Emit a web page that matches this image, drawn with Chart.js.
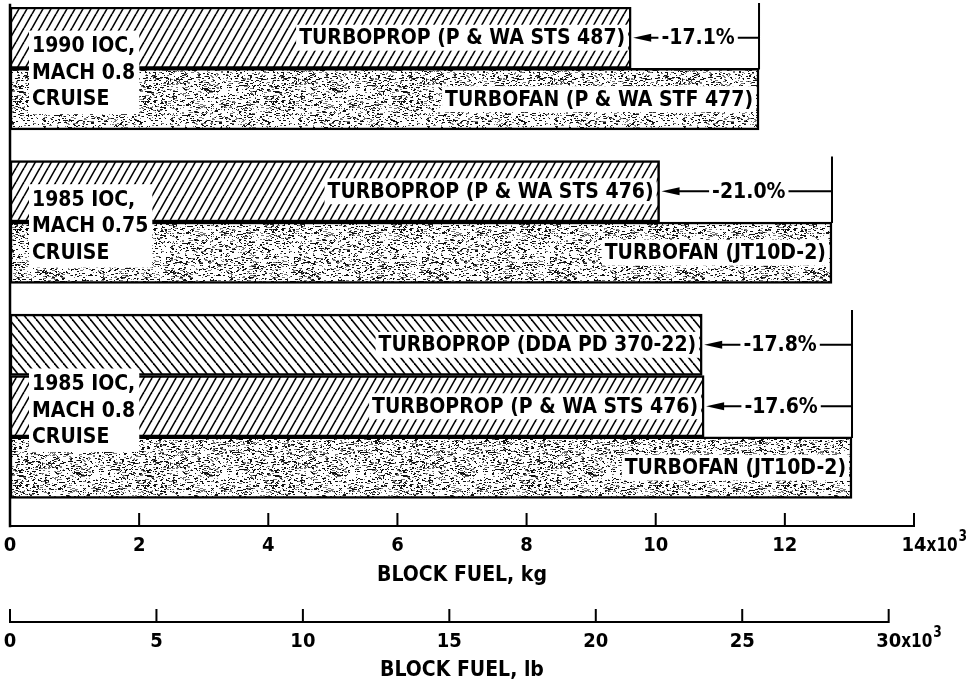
<!DOCTYPE html>
<html>
<head>
<meta charset="utf-8">
<title>Block fuel comparison</title>
<script src="https://cdn.jsdelivr.net/npm/chart.js@4.4.1/dist/chart.umd.min.js"></script>
<style>
  html, body { margin: 0; padding: 0; background: #fff; }
  #wrap { width: 970px; height: 683px; }
</style>
</head>
<body>
<div id="wrap"><canvas id="fuel-chart" width="970" height="683"></canvas></div>
<script>
// block fuel per engine, in thousands of kg
var engineLabels = [
    "TURBOPROP (P & WA STS 487)",
    "TURBOFAN (P & WA STF 477)",
    "TURBOPROP (P & WA STS 476)",
    "TURBOFAN (JT10D-2)",
    "TURBOPROP (DDA PD 370-22)",
    "TURBOPROP (P & WA STS 476)",
    "TURBOFAN (JT10D-2)"
];
var engineGroup = [0, 0, 1, 1, 2, 2, 2];
var blockFuel = [9.62, 11.6, 10.06, 12.73, 10.72, 10.75, 13.04];

var groupLabels = [
    ["1990 IOC,", "MACH 0.8", "CRUISE"],
    ["1985 IOC,", "MACH 0.75", "CRUISE"],
    ["1985 IOC,", "MACH 0.8", "CRUISE"]
];

// fuel reduction notes: turboprop bar -> turbofan bar it is compared with
var deltaLabels = ["-17.1%", "-21.0%", "-17.8%", "-17.6%"];
var deltaFrom = [0, 2, 4, 5];
var deltaTo = [1, 3, 6, 6];

var kgTicks = [0, 2, 4, 6, 8, 10, 12, 14];
var lbTicks = [0, 5, 10, 15, 20, 25, 30];
var LB_PER_KG = 2.20462;

// fill style per bar
var barFill = ["hatch", "stipple", "hatch", "stipple", "backhatch", "hatch", "stipple"];

var FONT = '"DejaVu Sans Condensed", "Liberation Sans Narrow", sans-serif';

// row slots: each bar takes 2 units, one unit of space between groups
var rowPos = [];
var cursor = 0;
for (var i = 0; i < blockFuel.length; i++) {
    if (i > 0 && engineGroup[i] !== engineGroup[i - 1]) cursor += 1;
    rowPos.push(cursor + 1);
    cursor += 2;
}
var rowsEnd = cursor;

function makeHatch(w, h, back) {
    var c = document.createElement("canvas");
    c.width = w;
    c.height = h;
    var g = c.getContext("2d");
    g.fillStyle = "#fff";
    g.fillRect(0, 0, w, h);
    g.strokeStyle = "#000";
    g.lineWidth = 1.6;
    for (var k = -1; k <= 1; k++) {
        g.beginPath();
        if (back) {
            g.moveTo(k * w, 0);
            g.lineTo(k * w + w, h);
        } else {
            g.moveTo(k * w, h);
            g.lineTo(k * w + w, 0);
        }
        g.stroke();
    }
    return g.createPattern(c, "repeat");
}

function makeStipple() {
    var size = 128;
    var c = document.createElement("canvas");
    c.width = size;
    c.height = size;
    var g = c.getContext("2d");
    g.fillStyle = "#fff";
    g.fillRect(0, 0, size, size);
    var seed = 20771;
    function next() {
        seed = (seed * 16807) % 2147483647;
        return seed / 2147483647;
    }
    for (var n = 0; n < 3000; n++) {
        var x = Math.floor(next() * size);
        var y = Math.floor(next() * size);
        var w = 1 + Math.floor(next() * 2.4);
        g.fillStyle = next() < 0.6 ? "#111" : "#777";
        g.fillRect(x, y, w, 1);
    }
    return g.createPattern(c, "repeat");
}

var fills = {
    hatch: makeHatch(8, 14, false),
    backhatch: makeHatch(9, 11, true),
    stipple: makeStipple()
};

function boxedText(ctx, text, x, y, align) {
    var w = ctx.measureText(text).width;
    var left = x;
    if (align === "right") left = x - w;
    if (align === "center") left = x - w / 2;
    ctx.fillStyle = "#fff";
    ctx.fillRect(left - 3, y - 13, w + 6, 26);
    ctx.fillStyle = "#000";
    ctx.textAlign = "left";
    ctx.textBaseline = "middle";
    ctx.fillText(text, left, y + 1);
}

var notesPlugin = {
    id: "notes",
    afterDatasetsDraw: function (chart) {
        var ctx = chart.ctx;
        var area = chart.chartArea;
        var xs = chart.scales.x;
        var x2 = chart.scales.x2;
        var bars = chart.getDatasetMeta(0).data;
        var labelFont = "bold 21px " + FONT;

        ctx.save();
        ctx.strokeStyle = "#000";
        ctx.lineWidth = 2.5;
        ctx.lineCap = "square";

        // left axis
        ctx.beginPath();
        ctx.moveTo(area.left, area.top - 2);
        ctx.lineTo(area.left, area.bottom);
        ctx.stroke();

        // kg axis, ticks pointing up
        ctx.lineWidth = 2;
        ctx.beginPath();
        ctx.moveTo(xs.getPixelForValue(kgTicks[0]), area.bottom);
        ctx.lineTo(xs.getPixelForValue(kgTicks[kgTicks.length - 1]), area.bottom);
        kgTicks.forEach(function (v) {
            var px = xs.getPixelForValue(v);
            ctx.moveTo(px, area.bottom);
            ctx.lineTo(px, area.bottom - 12);
        });
        ctx.stroke();

        // lb axis
        ctx.beginPath();
        ctx.moveTo(x2.getPixelForValue(lbTicks[0]), x2.top);
        ctx.lineTo(x2.getPixelForValue(lbTicks[lbTicks.length - 1]), x2.top);
        lbTicks.forEach(function (v) {
            var px = x2.getPixelForValue(v);
            ctx.moveTo(px, x2.top);
            ctx.lineTo(px, x2.top - 12);
        });
        ctx.stroke();

        // x10^3 after the last tick labels
        [xs, x2].forEach(function (scale, si) {
            var list = si === 0 ? kgTicks : lbTicks;
            var last = list[list.length - 1];
            ctx.font = "bold 20px " + FONT;
            var w = ctx.measureText(String(last)).width;
            var px = scale.getPixelForValue(last) + w / 2;
            var py = scale.top + 8 + 12;
            ctx.save();
            ctx.translate(px, py);
            ctx.scale(0.85, 1);
            ctx.fillStyle = "#000";
            ctx.textAlign = "left";
            ctx.textBaseline = "middle";
            ctx.fillText("x10", 0, 0);
            var w2 = ctx.measureText("x10").width;
            ctx.font = "bold 16px " + FONT;
            ctx.fillText("3", w2 + 1, -9);
            ctx.restore();
        });

        // engine labels inside the bars
        ctx.font = labelFont;
        bars.forEach(function (bar, i) {
            boxedText(ctx, engineLabels[i], bar.x - 6, bar.y, "right");
        });

        // group labels at the left
        groupLabels.forEach(function (lines, gi) {
            var rows = [];
            engineGroup.forEach(function (g, i) { if (g === gi) rows.push(i); });
            var top = bars[rows[0]].y - bars[rows[0]].height / 2;
            var bottom = bars[rows[rows.length - 1]].y + bars[rows[rows.length - 1]].height / 2;
            var mid = (top + bottom) / 2 + 4;
            var lh = 26.5;
            var w = 0;
            lines.forEach(function (t) { w = Math.max(w, ctx.measureText(t).width); });
            var y0 = mid - lh * (lines.length - 1) / 2;
            ctx.fillStyle = "#fff";
            ctx.fillRect(area.left + 19, y0 - lh / 2 - 2, w + 7, lh * lines.length + 4);
            ctx.fillStyle = "#000";
            ctx.textAlign = "left";
            ctx.textBaseline = "middle";
            lines.forEach(function (t, li) {
                ctx.fillText(t, area.left + 22, y0 + li * lh + 1);
            });
        });

        // reduction brackets
        ctx.lineWidth = 2;
        deltaLabels.forEach(function (label, d) {
            var a = bars[deltaFrom[d]];
            var b = bars[deltaTo[d]];
            var gi = engineGroup[deltaFrom[d]];
            var first = engineGroup.indexOf(gi);
            var gTop = bars[first].y - bars[first].height / 2;
            var vx = b.x;
            var tip = a.x + 2;

            ctx.strokeStyle = "#000";
            ctx.beginPath();
            ctx.moveTo(vx, gTop - 3);
            ctx.lineTo(vx, b.y - b.height / 2);
            ctx.moveTo(tip + 10, a.y);
            ctx.lineTo(vx, a.y);
            ctx.stroke();

            ctx.fillStyle = "#000";
            ctx.beginPath();
            ctx.moveTo(tip, a.y);
            ctx.lineTo(tip + 18, a.y - 4);
            ctx.lineTo(tip + 18, a.y + 4);
            ctx.closePath();
            ctx.fill();

            ctx.font = labelFont;
            boxedText(ctx, label, (tip + vx) / 2 + 2, a.y, "center");
        });

        ctx.restore();
    }
};

Chart.defaults.font.family = FONT;
Chart.defaults.font.weight = "bold";
Chart.defaults.color = "#000";

new Chart(document.getElementById("fuel-chart"), {
    type: "bar",
    data: {
        datasets: [{
            label: "Block fuel",
            data: blockFuel.map(function (v, i) { return { x: v, y: rowPos[i] }; }),
            backgroundColor: barFill.map(function (f) { return fills[f]; }),
            borderColor: "#000",
            borderWidth: 2.5,
            borderSkipped: false,
            barPercentage: 1,
            categoryPercentage: 1
        }]
    },
    options: {
        indexAxis: "y",
        responsive: false,
        animation: false,
        events: [],
        layout: { padding: { left: 10, right: 56, top: 7, bottom: 1.4 } },
        plugins: {
            legend: { display: false },
            tooltip: { enabled: false }
        },
        scales: {
            y: {
                type: "linear",
                reverse: true,
                offset: false,
                min: 0,
                max: rowsEnd + 0.9,
                display: false,
                ticks: { stepSize: 2, includeBounds: false }
            },
            x: {
                type: "linear",
                position: "bottom",
                min: kgTicks[0],
                max: kgTicks[kgTicks.length - 1],
                afterBuildTicks: function (scale) {
                    scale.ticks = kgTicks.map(function (v) { return { value: v }; });
                },
                grid: { display: false, drawTicks: true, tickLength: 8 },
                border: { display: false },
                ticks: { font: { size: 20 }, padding: 0 },
                title: {
                    display: true,
                    text: "BLOCK FUEL, kg",
                    font: { size: 21 },
                    padding: { top: 5.4, bottom: 33.4 }
                }
            },
            x2: {
                type: "linear",
                position: "bottom",
                min: kgTicks[0] * LB_PER_KG,
                max: kgTicks[kgTicks.length - 1] * LB_PER_KG,
                afterBuildTicks: function (scale) {
                    scale.ticks = lbTicks.map(function (v) { return { value: v }; });
                },
                grid: { display: false, drawTicks: true, tickLength: 8 },
                border: { display: false },
                ticks: { font: { size: 20 }, padding: 0 },
                title: {
                    display: true,
                    text: "BLOCK FUEL, lb",
                    font: { size: 21 },
                    padding: { top: 4.4, bottom: -2 }
                }
            }
        }
    },
    plugins: [notesPlugin]
});
</script>
</body>
</html>
